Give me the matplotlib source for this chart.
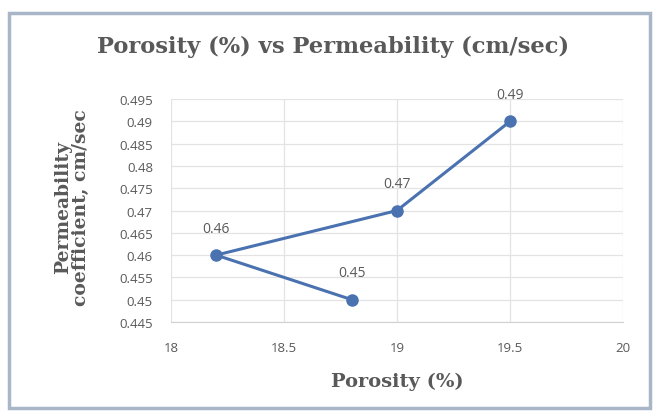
import matplotlib
matplotlib.use("Agg")
import matplotlib.pyplot as plt
from matplotlib.patches import Rectangle

porosity = [18.8, 18.2, 19.0, 19.5]
permeability = [0.45, 0.46, 0.47, 0.49]
point_labels = ["0.45", "0.46", "0.47", "0.49"]
x_ticks = [18, 18.5, 19, 19.5, 20]
y_ticks = [0.445, 0.45, 0.455, 0.46, 0.465, 0.47, 0.475, 0.48, 0.485, 0.49, 0.495]

BLUE = "#4a72b0"
GREY = "#595959"
SERIF = ["DejaVu Serif"]
SANS = ["Open Sans", "DejaVu Sans"]

fig = plt.figure(figsize=(6.55, 4.14), dpi=100)
fig.patch.set_facecolor("white")
fig.patches.append(Rectangle((0.014, 0.012), 0.978, 0.955, transform=fig.transFigure,
                             fill=False, edgecolor="#a9b6c8", lw=2.5))

ax = fig.add_axes([0.261, 0.220, 0.690, 0.538])
ax.plot(porosity, permeability, color=BLUE, lw=2.2, marker="o", ms=8,
        markerfacecolor=BLUE, markeredgecolor=BLUE, zorder=3)
for x, y, t in zip(porosity, permeability, point_labels):
    ax.annotate(t, (x, y), xytext=(0, 14), textcoords="offset points",
                ha="center", va="bottom", fontsize=10, color=GREY, family=SANS)

ax.set_xlim(18, 20)
ax.set_ylim(0.445, 0.495)
ax.set_xticks(x_ticks)
ax.set_xticklabels(["18", "18.5", "19", "19.5", "20"])
ax.set_yticks(y_ticks)
ax.set_yticklabels([f"{v:g}" for v in y_ticks])
ax.grid(True, color="#e3e3e3", lw=0.9)
ax.set_axisbelow(True)
for s in ["top", "right", "left"]:
    ax.spines[s].set_visible(False)
ax.spines["bottom"].set_color("#d0d0d0")
ax.tick_params(axis="y", length=0, labelsize=9.5, labelcolor=GREY, pad=13)
ax.tick_params(axis="x", length=0, labelsize=9.5, labelcolor=GREY, pad=14)
for lab in ax.get_xticklabels() + ax.get_yticklabels():
    lab.set_family(SANS)

# axis titles placed in figure coords (Excel-style layout)
fig.text(0.606, 0.077, "Porosity (%)", ha="center", va="center", fontsize=14,
         fontweight="bold", color=GREY, family=SERIF)
fig.text(0.110, 0.498, "Permeability\ncoefficient, cm/sec", ha="center", va="center",
         rotation=90, fontsize=13.5, fontweight="bold", color=GREY, family=SERIF,
         linespacing=0.95, multialignment="center")
fig.text(0.509, 0.886, "Porosity (%) vs Permeability (cm/sec)", ha="center",
         va="center", fontsize=16.3, fontweight="bold", color=GREY, family=SERIF)

fig.savefig("out.png", dpi=100, facecolor="white")
